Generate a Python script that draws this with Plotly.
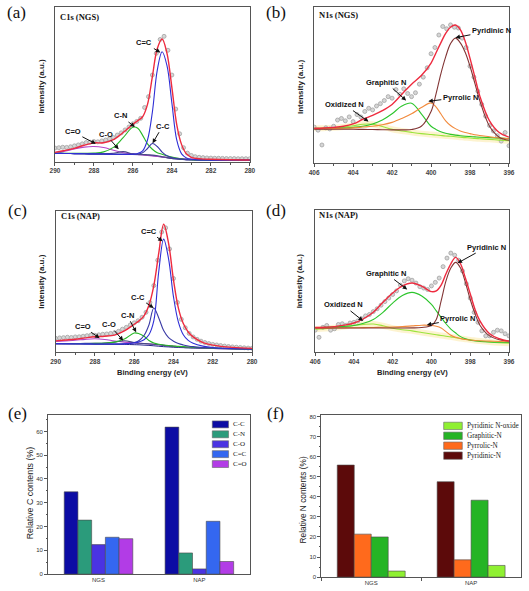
import plotly.graph_objects as go

W, H = 529, 591

# ---------------- DATA ----------------
# C1s binding-energy grid (eV) for fitted curves
c_ev = [290, 289.5, 289, 288.5, 288, 287.5, 287, 286.5, 286, 285.75, 285.5, 285.25, 285,
        284.75, 284.5, 284.25, 284, 283.75, 283.5, 283.25, 283, 282.5, 282, 281, 280]
# C1s (NGS)
ngs_c_env = [6.0, 7.2, 8.6, 10.6, 12.1, 12.2, 14.2, 18.8, 24.2, 26.5, 29.0, 37.0, 55.0,
             73.0, 79.3, 70.0, 48.0, 24.0, 11.0, 5.0, 2.8, 1.8, 1.5, 1.2, 1.1]
ngs_c_cdc = [5.3, 5.3, 5.2, 5.1, 5.0, 4.9, 4.8, 4.7, 4.8, 5.3, 7.0, 14.0, 32.0,
             59.0, 71.0, 62.0, 38.0, 14.0, 5.0, 2.4, 1.5, 1.1, 1.0, 1.0, 1.0]
ngs_c_cc = [5.3, 5.3, 5.2, 5.1, 5.0, 4.9, 4.8, 4.7, 4.7, 4.9, 5.8, 8.5, 11.7,
            9.8, 6.2, 3.8, 2.6, 2.0, 1.6, 1.3, 1.2, 1.1, 1.0, 1.0, 1.0]
ngs_c_cn = [5.4, 5.4, 5.4, 5.4, 5.5, 6.3, 9.2, 15.5, 22.2, 21.6, 17.0, 11.5, 8.0,
            5.8, 4.8, 3.8, 3.0, 2.4, 1.9, 1.5, 1.3, 1.1, 1.0, 1.0, 1.0]
ngs_c_cdo = [5.9, 6.8, 8.2, 9.4, 9.8, 9.1, 7.4, 5.8, 5.0, 4.6, 4.3, 4.0, 3.7,
             3.4, 3.1, 2.8, 2.5, 2.2, 2.0, 1.8, 1.6, 1.4, 1.2, 1.0, 0.9]
ngs_c_co = [5.3, 5.3, 5.2, 5.1, 5.0, 5.0, 5.4, 6.5, 5.0, 4.8, 4.6, 4.4, 4.2,
            3.8, 3.2, 2.6, 2.1, 1.8, 1.5, 1.3, 1.2, 1.1, 1.0, 1.0, 1.0]
ngs_c_bg = [5.3, 5.3, 5.2, 5.1, 5.0, 4.9, 4.8, 4.7, 4.6, 4.5, 4.4, 4.2, 3.9,
            3.5, 3.0, 2.5, 2.0, 1.7, 1.4, 1.2, 1.1, 1.0, 1.0, 1.0, 1.0]
# C1s (NAP)
nap_c_env = [7.7, 8.3, 8.9, 9.8, 10.6, 11.0, 11.8, 14.8, 19.5, 22.0, 25.5, 33.0, 47.0,
             70.0, 90.5, 77.0, 51.0, 31.0, 20.0, 14.0, 10.5, 6.5, 4.7, 3.1, 2.4]
nap_c_cdc = [5.8, 5.7, 5.7, 5.6, 5.5, 5.5, 5.5, 5.6, 6.2, 7.0, 8.5, 12.0, 22.0,
             57.0, 80.0, 66.0, 39.0, 21.0, 12.0, 8.0, 6.0, 4.0, 3.0, 2.3, 2.0]
nap_c_cc = [5.6, 5.6, 5.5, 5.5, 5.4, 5.4, 5.4, 5.6, 6.5, 8.0, 11.5, 19.0, 31.0,
            24.0, 15.0, 10.0, 7.5, 5.8, 4.8, 4.1, 3.6, 3.0, 2.6, 2.2, 2.0]
nap_c_cn = [5.8, 5.8, 5.8, 5.8, 5.9, 6.1, 6.8, 9.0, 13.3, 12.8, 11.0, 8.0, 6.2,
            5.3, 4.8, 4.4, 4.1, 3.8, 3.6, 3.4, 3.2, 2.9, 2.6, 2.2, 2.0]
nap_c_cdo = [7.3, 7.7, 8.1, 8.8, 9.2, 8.7, 7.6, 6.8, 6.3, 6.0, 5.8, 5.5, 5.2,
             4.9, 4.6, 4.3, 4.0, 3.7, 3.5, 3.3, 3.1, 2.7, 2.4, 2.0, 1.8]
nap_c_co = [5.8, 5.8, 5.8, 5.9, 6.0, 6.2, 6.8, 7.8, 6.5, 6.0, 5.8, 5.6, 5.3,
            5.0, 4.5, 4.0, 3.6, 3.3, 3.0, 2.8, 2.7, 2.5, 2.3, 2.1, 2.0]
nap_c_bg = [5.6, 5.6, 5.5, 5.5, 5.4, 5.4, 5.3, 5.2, 5.0, 4.9, 4.7, 4.5, 4.2,
            3.9, 3.6, 3.4, 3.2, 3.0, 2.9, 2.8, 2.7, 2.5, 2.3, 2.1, 2.0]

# measured C1s points
c_pts_ev = [290.0, 289.8, 289.6, 289.4, 289.2, 289.0, 288.8, 288.6, 288.4, 288.2, 288.0,
            287.8, 287.6, 287.4, 287.2, 287.0, 286.8, 286.6, 286.4, 286.2, 286.0,
            285.8, 285.6, 285.4, 285.2, 285.0, 284.8, 284.6, 284.4, 284.2, 284.0,
            283.8, 283.6, 283.4, 283.2, 283.0, 282.8, 282.6, 282.4, 282.2, 282.0,
            281.8, 281.6, 281.4, 281.2, 281.0, 280.8, 280.6, 280.4, 280.2, 280.0]
ngs_c_pts = [8.8, 9.0, 9.3, 9.2, 9.6, 10.2, 10.8, 11.5, 12.3, 12.6, 13.0,
             12.8, 13.4, 14.0, 14.8, 15.6, 17.2, 18.6, 20.5, 22.4, 24.5,
             26.0, 28.0, 35.0, 42.0, 56.0, 70.0, 79.0, 81.0, 72.0, 56.0,
             34.0, 18.0, 9.0, 5.5, 4.0, 3.2, 2.8, 2.6, 2.4, 2.3,
             2.2, 2.2, 2.1, 2.0, 2.0, 2.0, 1.9, 1.9, 1.9, 1.9]
nap_c_pts = [9.5, 9.8, 10.0, 10.3, 10.1, 10.5, 10.6, 11.0, 11.4, 11.8, 11.7,
             12.0, 12.4, 12.6, 13.0, 13.4, 14.5, 16.0, 17.3, 19.0, 20.5,
             22.0, 24.5, 28.0, 35.0, 47.0, 65.0, 85.0, 88.0, 73.0, 52.0,
             35.0, 23.0, 17.0, 13.0, 10.5, 8.8, 7.5, 6.5, 5.8, 5.2,
             4.8, 4.4, 4.0, 3.7, 3.4, 3.2, 3.0, 2.8, 2.6, 2.5]

# N1s binding-energy grid (eV)
n_ev = [406, 405.5, 405, 404.5, 404, 403.5, 403, 402.5, 402, 401.5, 401, 400.5, 400,
        399.75, 399.5, 399.25, 399, 398.75, 398.5, 398.25, 398, 397.75, 397.5, 397, 396.5, 396]
# N1s (NGS)
ngs_n_env = [22.2, 22.4, 22.8, 23.5, 25.0, 28.0, 30.5, 33.5, 37.5, 44.0, 50.5, 56.0, 64.0,
             70.5, 77.0, 83.0, 87.0, 88.4, 85.5, 78.0, 67.0, 55.0, 43.0, 27.0, 19.5, 16.5]
ngs_n_pyridinic = [21.6, 21.6, 21.6, 21.6, 21.6, 21.5, 21.4, 21.3, 21.2, 21.2, 21.4, 23.5, 33.0,
                   44.0, 57.0, 68.0, 76.5, 80.0, 77.0, 71.0, 62.0, 51.0, 40.0, 23.5, 16.5, 14.5]
ngs_n_pyrrolic = [21.8, 21.9, 22.0, 22.2, 22.5, 23.0, 23.5, 24.5, 26.0, 28.5, 31.5, 35.5, 38.5,
                  36.0, 31.5, 27.0, 24.0, 22.0, 20.5, 19.5, 18.8, 18.1, 17.6, 16.8, 16.0, 15.5]
ngs_n_graphitic = [22.0, 22.1, 22.2, 22.5, 22.8, 23.5, 25.0, 27.5, 31.5, 36.5, 38.3, 31.5, 23.5,
                   21.5, 20.0, 19.0, 18.3, 17.8, 17.4, 17.1, 16.9, 16.7, 16.5, 16.2, 15.9, 15.6]
ngs_n_oxidized = [22.2, 22.3, 22.5, 23.0, 23.8, 24.8, 24.8, 23.3, 21.6, 20.5, 19.6, 18.8, 18.2,
                  17.9, 17.6, 17.3, 17.1, 16.8, 16.5, 16.2, 16.0, 15.7, 15.5, 15.1, 14.6, 14.2]
# N1s (NAP)
nap_n_env = [17.4, 17.6, 18.0, 19.0, 20.5, 23.5, 28.0, 35.0, 41.5, 46.5, 48.5, 46.3, 42.5,
             43.0, 47.0, 55.0, 62.0, 66.5, 62.0, 52.0, 41.0, 30.0, 22.0, 13.0, 9.5, 7.8]
nap_n_pyridinic = [17.0, 17.0, 17.0, 17.0, 17.0, 17.0, 17.0, 17.0, 17.0, 17.0, 17.1, 17.4, 18.8,
                   23.0, 36.0, 50.0, 59.0, 63.0, 59.0, 49.0, 37.0, 27.0, 19.0, 11.5, 8.8, 7.9]
nap_n_pyrrolic = [16.8, 16.9, 17.0, 17.1, 17.2, 17.3, 17.4, 17.5, 17.7, 18.0, 18.5, 19.0, 18.8,
                  18.2, 17.0, 14.5, 12.0, 10.5, 9.6, 9.0, 8.6, 8.3, 8.1, 7.8, 7.6, 7.4]
nap_n_graphitic = [17.4, 17.6, 17.9, 18.2, 18.8, 20.3, 23.0, 28.0, 34.5, 39.8, 42.0, 39.5, 33.5,
                   29.0, 24.5, 20.0, 16.3, 13.5, 11.0, 9.5, 8.5, 8.0, 7.6, 7.2, 7.0, 6.9]
nap_n_oxidized = [16.2, 16.6, 17.2, 18.0, 18.8, 19.5, 19.8, 18.6, 16.9, 15.8, 15.0, 13.9, 12.8,
                  12.3, 11.8, 11.3, 10.8, 10.2, 9.7, 9.2, 8.7, 8.3, 7.9, 7.2, 6.7, 6.4]

# measured N1s points
n_pts_ev = [406.0, 405.8, 405.6, 405.4, 405.2, 405.0, 404.8, 404.6, 404.4, 404.2, 404.0,
            403.8, 403.6, 403.4, 403.2, 403.0, 402.8, 402.6, 402.4, 402.2, 402.0,
            401.8, 401.6, 401.4, 401.2, 401.0, 400.8, 400.6, 400.4, 400.2, 400.0,
            399.8, 399.6, 399.4, 399.2, 399.0, 398.8, 398.6, 398.4, 398.2, 398.0,
            397.8, 397.6, 397.4, 397.2, 397.0, 396.8, 396.6, 396.4, 396.2, 396.0]
ngs_n_pts = [23.0, 21.0, 11.5, 22.5, 21.8, 23.5, 27.5, 28.5, 27.0, 29.5, 26.5,
             31.0, 29.5, 33.0, 35.0, 34.0, 36.5, 38.0, 40.0, 42.5, 41.5,
             47.0, 44.0, 47.5, 44.5, 42.5, 45.0, 50.5, 55.0, 61.0, 70.0,
             74.0, 82.0, 87.5, 86.0, 88.5, 87.0, 86.5, 80.0, 74.0, 62.0,
             55.0, 46.0, 37.5, 30.0, 24.0, 20.5, 17.5, 14.0, 19.5, 11.0]
nap_n_pts = [15.5, 10.5, 17.5, 18.8, 15.5, 16.5, 19.5, 20.0, 19.0, 20.5, 21.0,
             22.0, 23.5, 25.5, 26.5, 28.5, 30.5, 33.0, 35.5, 38.0, 40.5,
             43.0, 47.0, 50.0, 51.5, 50.5, 48.5, 46.0, 45.0, 44.0, 46.5,
             49.0, 52.0, 60.0, 66.0, 69.5, 68.0, 64.5, 57.0, 48.0, 38.0,
             28.0, 21.0, 15.0, 11.5, 11.5, 14.0, 15.5, 15.0, 13.0, 11.5]

# Bar charts
samples = ["NGS", "NAP"]
c_species = ["C-C", "C-N", "C-O", "C=C", "C=O"]
c_cc_pct = [34.6, 61.8]
c_cn_pct = [22.7, 8.9]
c_co_pct = [12.4, 2.2]
c_cdc_pct = [15.5, 22.2]
c_cdo_pct = [14.9, 5.3]
n_species = ["Pyridinic-N", "Pyrrolic-N", "Graphitic-N", "Pyridinic N-oxide"]
n_pyridinic_pct = [55.8, 47.5]
n_pyrrolic_pct = [21.4, 8.6]
n_graphitic_pct = [20.0, 38.3]
n_oxide_pct = [3.0, 5.8]

# ---------------- STYLE ----------------
SANS = "Liberation Sans"
SERIF = "Liberation Serif"
FRAME = "#555555"
RED = "#ee2b3f"
C_COL = {"C=C": "#2f2fd6", "C-C": "#3b3ba6", "C-N": "#27b827", "C=O": "#b445c8",
         "C-O": "#4a4a86", "bg": "#22228a"}
N_COL = {"pyridinic": "#823535", "pyrrolic": "#f28a3c", "graphitic": "#2cc52c",
         "oxidized": "#9be43c", "halo": "rgba(250,228,150,0.45)"}
BAR_C = ["#0c0ca4", "#2b9b7b", "#4a33e2", "#3467f0", "#b23ce6"]
BAR_N = ["#5c0a0a", "#ff6a1c", "#25b425", "#8ff032"]


def pxf(x):
    return x / W


def pyf(y):
    return 1 - y / H


# plot areas in pixels: (left, right, top, bottom)
boxes = {
    1: (51, 250, 5, 161),
    2: (315.7, 514.7, 5, 162.3),
    3: (51.7, 252.3, 210.7, 352.7),
    4: (316.7, 514.7, 209.3, 353.3),
    5: (44, 250, 417, 577),
    6: (323, 527, 417, 580),
}

fig = go.Figure()


def line(ax, x, y, color, width=1.1):
    fig.add_trace(go.Scatter(x=x, y=y, mode="lines", xaxis=f"x{ax}", yaxis=f"y{ax}",
                             line=dict(color=color, width=width, shape="spline", smoothing=1.0),
                             showlegend=False, hoverinfo="skip"))


def pts(ax, x, y):
    fig.add_trace(go.Scatter(x=x, y=y, mode="markers", xaxis=f"x{ax}", yaxis=f"y{ax}",
                             marker=dict(symbol="circle", size=4, color="#d6d6d6",
                                         line=dict(color="#a2a2a2", width=0.8)),
                             showlegend=False, hoverinfo="skip"))


# (a) C1s NGS
pts(1, c_pts_ev, ngs_c_pts)
line(1, c_ev, ngs_c_bg, C_COL["bg"], 1.0)
line(1, c_ev, ngs_c_cdo, C_COL["C=O"])
line(1, c_ev, ngs_c_co, C_COL["C-O"])
line(1, c_ev, ngs_c_cn, C_COL["C-N"])
line(1, c_ev, ngs_c_cc, C_COL["C-C"])
line(1, c_ev, ngs_c_cdc, C_COL["C=C"])
line(1, c_ev, ngs_c_env, RED, 1.4)
# (c) C1s NAP
pts(3, c_pts_ev, nap_c_pts)
line(3, c_ev, nap_c_bg, C_COL["bg"], 1.0)
line(3, c_ev, nap_c_cdo, C_COL["C=O"])
line(3, c_ev, nap_c_co, C_COL["C-O"])
line(3, c_ev, nap_c_cn, C_COL["C-N"])
line(3, c_ev, nap_c_cc, C_COL["C-C"])
line(3, c_ev, nap_c_cdc, C_COL["C=C"])
line(3, c_ev, nap_c_env, RED, 1.4)
# (b) N1s NGS
line(2, n_ev, ngs_n_oxidized, N_COL["halo"], 6)
pts(2, n_pts_ev, ngs_n_pts)
line(2, n_ev, ngs_n_oxidized, N_COL["oxidized"])
line(2, n_ev, ngs_n_graphitic, N_COL["graphitic"])
line(2, n_ev, ngs_n_pyrrolic, N_COL["pyrrolic"])
line(2, n_ev, ngs_n_pyridinic, N_COL["pyridinic"])
line(2, n_ev, ngs_n_env, RED, 1.4)
# (d) N1s NAP
line(4, n_ev, nap_n_oxidized, N_COL["halo"], 6)
pts(4, n_pts_ev, nap_n_pts)
line(4, n_ev, nap_n_oxidized, N_COL["oxidized"])
line(4, n_ev, nap_n_graphitic, N_COL["graphitic"])
line(4, n_ev, nap_n_pyrrolic, N_COL["pyrrolic"])
line(4, n_ev, nap_n_pyridinic, N_COL["pyridinic"])
line(4, n_ev, nap_n_env, RED, 1.4)

# (e) bars
for name, vals, col in zip(c_species, [c_cc_pct, c_cn_pct, c_co_pct, c_cdc_pct, c_cdo_pct], BAR_C):
    fig.add_trace(go.Bar(x=samples, y=vals, name=name, xaxis="x5", yaxis="y5",
                         marker=dict(color=col, line=dict(color="#4a4a4a", width=0.6)),
                         showlegend=False))
# (f) bars
for name, vals, col in zip(n_species, [n_pyridinic_pct, n_pyrrolic_pct, n_graphitic_pct, n_oxide_pct], BAR_N):
    fig.add_trace(go.Bar(x=samples, y=vals, name=name, xaxis="x6", yaxis="y6",
                         marker=dict(color=col, line=dict(color="#4a4a4a", width=0.6)),
                         showlegend=False))

layout = dict(width=W, height=H, margin=dict(l=0, r=0, t=0, b=0),
              paper_bgcolor="white", plot_bgcolor="white",
              barmode="group", bargap=0.32, bargroupgap=0.0,
              font=dict(family=SANS, color="#222"))

tickfont_spec = dict(family=SANS, size=6.5, color="#444", weight="bold")
for i, rng in [(1, [290, 280]), (2, [406, 396]), (3, [290, 280]), (4, [406, 396])]:
    l, r, t, b = boxes[i]
    layout[f"xaxis{i}"] = dict(domain=[pxf(l), pxf(r)], range=rng, anchor=f"y{i}",
                               showline=True, mirror=True, linecolor=FRAME, linewidth=1,
                               ticks="outside", ticklen=3, tickcolor=FRAME, tickwidth=1,
                               tick0=rng[1], dtick=2, tickfont=tickfont_spec,
                               minor=dict(ticks="outside", ticklen=2, dtick=1, tickcolor=FRAME),
                               showgrid=False, zeroline=False)
    layout[f"yaxis{i}"] = dict(domain=[pyf(b), pyf(t)], range=[0, 100], anchor=f"x{i}",
                               showline=True, mirror=True, linecolor=FRAME, linewidth=1,
                               showticklabels=False, ticks="", showgrid=False, zeroline=False)

for i, yr in [(5, [0, 66.7]), (6, [0, 80.5])]:
    l, r, t, b = boxes[i]
    layout[f"xaxis{i}"] = dict(domain=[pxf(l), pxf(r)], anchor=f"y{i}", type="category",
                               showline=True, mirror=True, linecolor=FRAME, linewidth=1,
                               ticks="outside" if i == 6 else "", tickson="boundaries" if i == 6 else "labels",
                               ticklen=3, tickcolor=FRAME,
                               tickfont=dict(family=SANS, size=6, color="#333"),
                               showgrid=False, zeroline=False)
    layout[f"yaxis{i}"] = dict(domain=[pyf(b), pyf(t)], range=yr, anchor=f"x{i}",
                               showline=True, mirror=True, linecolor=FRAME, linewidth=1,
                               ticks="outside", ticklen=3, tickcolor=FRAME, dtick=10,
                               minor=dict(ticks="outside", ticklen=1.5, dtick=5, tickcolor=FRAME),
                               tickfont=dict(family=SANS, size=6, color="#333"),
                               showgrid=False, zeroline=False)

fig.update_layout(**layout)

ann = []
# panel letters
for txt, x, y in [("(a)", 0, 11), ("(b)", 265, 11), ("(c)", 1, 210), ("(d)", 265, 210),
                  ("(e)", 1, 415), ("(f)", 266, 415)]:
    ann.append(dict(text=txt, x=pxf(x), y=pyf(y), xref="paper", yref="paper", xanchor="left",
                    yanchor="middle", showarrow=False, font=dict(family=SERIF, size=17, color="#111")))
# panel inner titles
for txt, x, y in [("C1s (NGS)", 54, 15), ("N1s (NGS)", 319, 13), ("C1s (NAP)", 55, 216),
                  ("N1s (NAP)", 319, 215)]:
    ann.append(dict(text=txt, x=pxf(x), y=pyf(y), xref="paper", yref="paper", xanchor="left",
                    yanchor="middle", showarrow=False,
                    font=dict(family=SERIF, size=8.5, color="#111", weight="bold")))
# axis titles
for x, y in [(37, 85), (302, 85), (37, 282), (301, 281)]:
    ann.append(dict(text="Intensity (a.u.)", x=pxf(x), y=pyf(y), xref="paper", yref="paper",
                    textangle=-90, showarrow=False, xanchor="center", yanchor="middle",
                    font=dict(family=SANS, size=8, color="#222", weight="bold")))
for x, y in [(151, 374), (416, 374)]:
    ann.append(dict(text="Binding energy (eV)", x=pxf(x), y=pyf(y), xref="paper", yref="paper",
                    showarrow=False, xanchor="center", yanchor="middle",
                    font=dict(family=SANS, size=7.5, color="#222", weight="bold")))
ann.append(dict(text="Relative C contents (%)", x=pxf(25), y=pyf(495), xref="paper", yref="paper",
                textangle=-90, showarrow=False, xanchor="center", yanchor="middle",
                font=dict(family=SANS, size=8.8, color="#222")))
ann.append(dict(text="Relative N contents (%)", x=pxf(304), y=pyf(502), xref="paper", yref="paper",
                textangle=-90, showarrow=False, xanchor="center", yanchor="middle",
                font=dict(family=SANS, size=8.3, color="#222")))

# peak labels with arrows: (axis, text, eV, intensity, ax, ay)
peak_labels = [
    (1, "C=O", 287.9, 11.5, -23, -12),
    (1, "C-O", 286.73, 8.0, -13, -15),
    (1, "C-N", 285.9, 22.4, -14, -11),
    (1, "C=C", 284.59, 70.5, -16, -10),
    (1, "C-C", 284.99, 11.9, 10, -17),
    (3, "C=O", 287.76, 9.6, -17, -12),
    (3, "C-O", 286.56, 7.8, -14, -16),
    (3, "C-N", 285.9, 13.8, -9, -17),
    (3, "C-C", 285.01, 31.0, -16, -11),
    (3, "C=C", 284.55, 78.5, -14, -10),
    (2, "Oxidized N", 403.21, 26.5, -24, -17),
    (2, "Graphitic N", 401.28, 40.0, -20, -18),
    (2, "Pyrrolic N", 400.14, 39.5, 32, -4),
    (2, "Pyridinic N", 398.75, 80.3, 36, -7),
    (4, "Oxidized N", 403.53, 22.0, -20, -16),
    (4, "Graphitic N", 401.25, 44.0, -21, -16),
    (4, "Pyrrolic N", 400.24, 19.2, 31, -6),
    (4, "Pyridinic N", 398.65, 62.5, 29, -16),
]
for axn, txt, xv, yv, dx, dy in peak_labels:
    ann.append(dict(text=txt, x=xv, y=yv, xref=f"x{axn}", yref=f"y{axn}", ax=dx, ay=dy,
                    showarrow=True, arrowhead=2, arrowsize=0.9, arrowwidth=1, arrowcolor="#111",
                    standoff=0, font=dict(family=SANS, size=7.5, color="#111", weight="bold")))

# manual legends
shapes = []
for k, (name, col) in enumerate(zip(c_species, BAR_C)):
    yc = 426 + 10 * k
    shapes.append(dict(type="rect", xref="paper", yref="paper", x0=pxf(211.7), x1=pxf(228.3),
                       y0=pyf(yc + 3.5), y1=pyf(yc - 3.5), fillcolor=col,
                       line=dict(color="#666", width=0.6)))
    ann.append(dict(text=name, x=pxf(231), y=pyf(yc), xref="paper", yref="paper", xanchor="left",
                    yanchor="middle", showarrow=False, font=dict(family=SERIF, size=7, color="#222")))
legend_n_order = ["Pyridinic N-oxide", "Graphitic-N", "Pyrrolic-N", "Pyridinic-N"]
for k, name in enumerate(legend_n_order):
    col = BAR_N[n_species.index(name)]
    yc = 427.5 + 10 * k
    shapes.append(dict(type="rect", xref="paper", yref="paper", x0=pxf(448), x1=pxf(467),
                       y0=pyf(yc + 3.7), y1=pyf(yc - 3.7), fillcolor=col,
                       line=dict(color="#666", width=0.6)))
    ann.append(dict(text=name, x=pxf(470), y=pyf(yc), xref="paper", yref="paper", xanchor="left",
                    yanchor="middle", showarrow=False, font=dict(family=SERIF, size=7.2, color="#222")))

fig.update_layout(annotations=ann, shapes=shapes)
fig.write_html("out.html", config={"displayModeBar": False},
               post_script="document.body.style.margin='0px';document.body.style.overflow='hidden';")
